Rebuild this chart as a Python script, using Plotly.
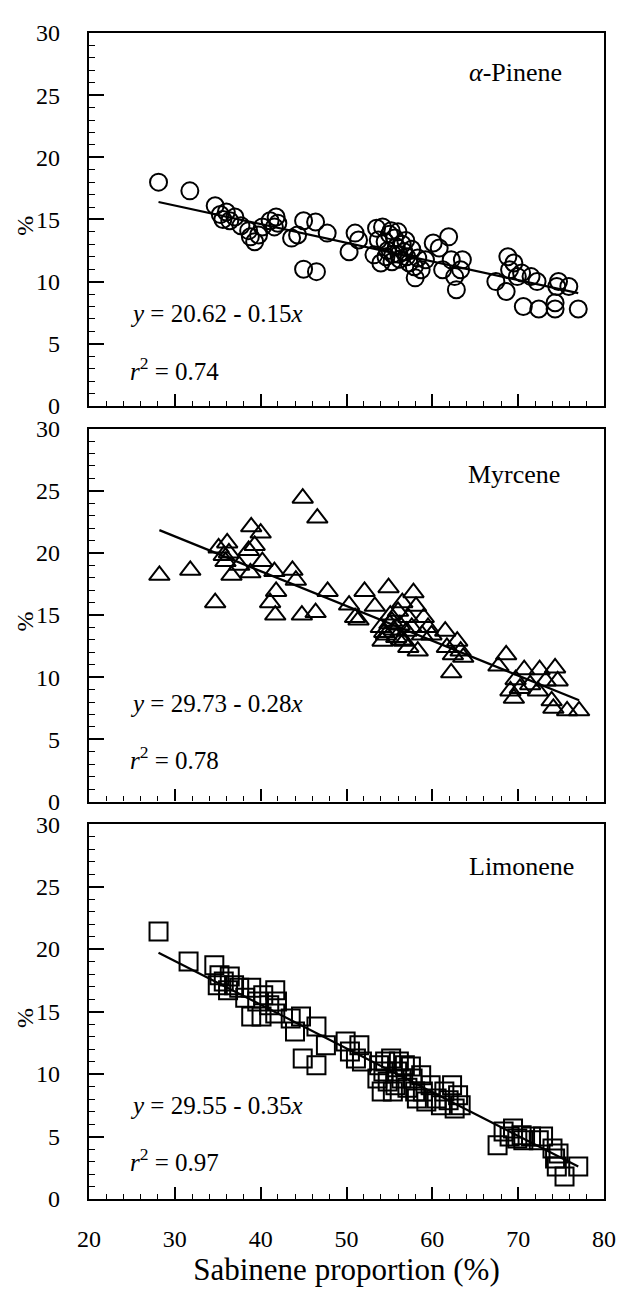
import plotly.graph_objects as go

# ---------------- data ----------------
pinene_x = [28.1, 31.75, 34.7, 35.3, 35.6, 36.0, 36.4, 37.0, 37.7, 38.6, 38.8, 39.3, 39.75, 40.2,
            41.1, 41.6, 41.8, 42.0, 43.6, 44.3, 45.0, 45.0, 46.4, 46.5, 47.75, 50.3, 51.0, 51.4,
            53.2, 53.5, 53.7, 54.2, 54.5, 54.8, 55.0, 55.2, 55.4, 55.6, 55.8, 56.0, 56.2, 56.5,
            56.7, 57.0, 57.3, 57.6, 54.6, 55.3, 56.1, 56.9, 57.9, 58.3, 54.0,
            58.0, 58.7, 59.2, 60.1, 60.8, 61.2, 61.9, 62.2, 62.6, 62.8, 63.3, 63.5,
            67.4, 68.6, 68.8, 69.0, 69.5, 69.9, 70.4, 70.6, 71.5, 72.2, 72.4, 74.3, 74.3, 74.5,
            74.7, 75.9, 77.0]
pinene_y = [18.0, 17.3, 16.1, 15.4, 15.0, 15.6, 14.9, 15.2, 14.5, 14.1, 13.6, 13.2, 13.75, 14.4,
            14.9, 14.4, 15.2, 14.7, 13.5, 13.75, 14.9, 11.0, 14.8, 10.8, 13.9, 12.4, 13.9, 13.35,
            12.15, 14.3, 13.35, 14.4, 13.2, 12.5, 13.8, 14.1, 12.2, 13.5, 12.8, 14.0, 11.8, 13.0,
            12.4, 12.0, 11.5, 12.6, 12.0, 11.6, 12.2, 13.3, 11.2, 11.9, 11.5,
            10.3, 10.95, 11.75, 13.1, 12.7, 10.95, 13.6, 11.75, 10.4, 9.35, 10.95, 11.75,
            10.0, 9.2, 12.0, 10.95, 11.5, 10.4, 10.7, 8.0, 10.4, 10.0, 7.8, 8.3, 7.8, 9.6,
            10.0, 9.6, 7.8]

myrcene_x = [28.2, 31.8, 34.7, 35.1, 36.1, 35.9, 35.7, 36.6, 36.3, 37.5, 38.8, 38.6, 38.9, 39.3,
             40.0, 40.2, 41.6, 41.8, 41.1, 41.7, 43.7, 44.1, 44.8, 44.9, 46.6, 46.4, 47.8,
             50.3, 51.0, 51.4, 52.1, 53.3, 54.9, 54.0, 54.6, 55.3, 55.8, 56.2, 56.7, 54.2,
             55.1, 56.0, 57.2, 57.6, 57.8, 58.1, 58.3, 58.8, 59.0, 59.5, 59.9, 57.2, 56.5,
             55.5, 54.4, 56.4, 55.0, 57.0,
             61.5, 61.7, 62.2, 62.4, 62.9, 63.3, 63.6, 67.7, 68.6, 69.1, 69.5, 69.7, 70.2,
             70.7, 71.4, 72.3, 72.5, 73.2, 73.9, 74.1, 74.3, 74.6, 75.7, 77.1]
myrcene_y = [18.2, 18.6, 16.0, 20.4, 20.8, 19.3, 19.8, 18.2, 20.0, 19.0, 18.4, 20.2, 22.1, 20.6,
             21.6, 19.3, 18.5, 16.9, 16.0, 15.0, 18.6, 17.8, 15.0, 24.4, 22.8, 15.2, 16.9,
             15.8, 14.8, 14.6, 16.9, 15.7, 17.2, 14.0, 13.4, 14.5, 13.2, 14.2, 12.9, 12.9,
             15.0, 15.3, 14.8, 14.0, 16.8, 15.7, 12.1, 13.4, 14.8, 14.0, 13.4, 12.4, 16.0,
             13.8, 13.6, 13.0, 14.3, 13.7,
             13.7, 12.4, 10.35, 11.8, 12.9, 12.1, 11.6, 10.9, 11.8, 8.9, 8.3, 9.8, 9.1,
             10.6, 9.4, 8.9, 10.6, 9.7, 8.1, 7.5, 10.75, 9.7, 7.3, 7.3]

limonene_x = [28.1, 31.6, 34.6, 35.2, 35.7, 36.4, 36.9, 35.0, 36.2, 37.5, 38.2, 38.9, 38.9, 39.6,
              40.1, 40.3, 41.0, 41.7, 41.7, 41.9, 43.5, 44.0, 44.7, 44.9, 46.5, 46.5, 47.6,
              49.9, 50.4, 51.1, 51.5, 51.8, 53.8, 54.3, 54.8, 55.2, 55.4, 55.9, 56.4, 56.8,
              57.1, 57.7, 58.2, 58.7, 58.9, 59.3, 59.8, 53.6, 54.1, 54.5, 55.7, 56.1, 57.5,
              58.0, 60.5, 61.0, 61.4, 61.9, 62.3, 62.6, 63.0, 63.3, 67.6, 68.3, 69.0, 69.4,
              69.9, 70.4, 70.6, 71.5, 72.4, 72.9, 74.0, 74.3, 74.5, 74.7, 75.4, 77.0]
limonene_y = [21.4, 19.0, 18.7, 17.9, 17.4, 17.8, 17.1, 17.1, 16.7, 16.9, 16.1, 16.9, 14.6, 15.8,
              14.6, 16.3, 15.5, 16.7, 14.85, 15.8, 14.45, 13.4, 14.6, 11.25, 13.8, 10.7, 12.3,
              12.6, 11.8, 11.25, 12.3, 11.0, 10.7, 10.2, 9.4, 11.25, 8.6, 10.2, 9.65, 10.7,
              8.9, 9.65, 8.05, 9.9, 8.6, 7.8, 9.1, 9.65, 8.6, 11.0, 9.1, 11.0, 10.6,
              8.6, 8.05, 7.5, 8.6, 7.9, 9.1, 7.25, 8.3, 7.5, 4.3, 5.4, 5.0, 5.65,
              4.85, 5.1, 4.7, 5.0, 4.7, 5.0, 4.05, 3.25, 2.6, 3.65, 1.8, 2.6]

compound_names = ["α-Pinene", "Myrcene", "Limonene"]
intercepts = [20.62, 29.73, 29.55]
slopes = [-0.15, -0.28, -0.35]
r_squared = [0.74, 0.78, 0.97]
marker_symbols = ["circle-open", "triangle-up-open", "square-open"]

x_ticks = [20, 30, 40, 50, 60, 70, 80]
y_ticks = [0, 5, 10, 15, 20, 25, 30]

# ---------------- figure ----------------
FONT = "Liberation Serif, Times New Roman, serif"
series = [(pinene_x, pinene_y), (myrcene_x, myrcene_y), (limonene_x, limonene_y)]
domains = [[0.6802, 1.0], [0.3409, 0.6607], [0.0, 0.3215]]
label_pos = [(69.7, 26.8), (69.5, 26.3), (70.4, 26.6)]
eq_y = [7.4, 7.9, 7.5]
r2_y = [3.0, 3.5, 3.1]

fig = go.Figure()
for i, (xs, ys) in enumerate(series):
    xa = "x" if i == 0 else f"x{i+1}"
    ya = "y" if i == 0 else f"y{i+1}"
    fig.add_trace(go.Scatter(
        x=xs, y=ys, mode="markers", xaxis=xa, yaxis=ya,
        marker=dict(symbol=marker_symbols[i], size=17 if i == 0 else 18,
                    color="black", line=dict(width=2, color="black")),
        showlegend=False, hoverinfo="x+y"))
    x0, x1 = min(xs), max(xs)
    fig.add_trace(go.Scatter(
        x=[x0, x1], y=[intercepts[i] + slopes[i] * x0, intercepts[i] + slopes[i] * x1],
        mode="lines", xaxis=xa, yaxis=ya, line=dict(color="black", width=2.2),
        showlegend=False, hoverinfo="skip"))

axis_common = dict(showgrid=False, zeroline=False, showline=True, mirror=True,
                   linecolor="black", linewidth=2.2, ticks="inside", tickcolor="black",
                   tickwidth=1.6, tickfont=dict(family=FONT, size=24, color="black"))

# page body has an 8 px margin, so the figure sits at (8, 8)
layout = dict(
    width=620, height=1284, paper_bgcolor="white", plot_bgcolor="white",
    margin=dict(l=81, r=16, t=16, b=86),
    font=dict(family=FONT, color="black"),
    annotations=[],
)
for i in range(3):
    xk = "xaxis" if i == 0 else f"xaxis{i+1}"
    yk = "yaxis" if i == 0 else f"yaxis{i+1}"
    ya = "y" if i == 0 else f"y{i+1}"
    xa = "x" if i == 0 else f"x{i+1}"
    layout[xk] = dict(axis_common, range=[20, 80], tickvals=x_ticks, ticklen=12,
                      showticklabels=(i == 2), anchor=ya, domain=[0, 1],
                      minor=dict(dtick=2, tick0=20, ticks="inside", ticklen=5,
                                 tickcolor="black", tickwidth=1.3),
                      ticklabelstandoff=17)
    layout[yk] = dict(axis_common, range=[0, 30], tickvals=y_ticks, ticklen=15,
                      anchor=xa, domain=domains[i], ticklabelstandoff=22,
                      minor=dict(dtick=1, tick0=0, ticks="inside", ticklen=6,
                                 tickcolor="black", tickwidth=1.3))
    if i == 2:
        layout[xk]["title"] = dict(text="Sabinene proportion (%)",
                                   font=dict(family=FONT, size=31, color="black"),
                                   standoff=6)
    lx, ly = label_pos[i]
    name = compound_names[i]
    if name.startswith("α"):
        name = "<i>α</i>" + name[1:]
    layout["annotations"] += [
        dict(x=lx, y=ly, xref=xa, yref=ya, text=name, showarrow=False,
             font=dict(family=FONT, size=26, color="black")),
        dict(x=24.6, y=eq_y[i], xref=xa, yref=ya, xanchor="left", showarrow=False,
             text=f"<i>y</i> = {intercepts[i]:.2f} - {abs(slopes[i]):.2f}<i>x</i>",
             font=dict(family=FONT, size=25, color="black")),
        dict(x=24.6, y=r2_y[i], xref=xa, yref=ya, xanchor="left", showarrow=False,
             text=f"<i>r</i><sup>2</sup> = {r_squared[i]:.2f}",
             font=dict(family=FONT, size=25, color="black")),
        dict(x=-0.124, y=14.5, xref="paper", yref=ya, text="%", textangle=-90,
             xanchor="center", yanchor="middle",
             showarrow=False, font=dict(family=FONT, size=24, color="black")),
    ]

fig.update_layout(**layout)
fig.write_html("out.html")
